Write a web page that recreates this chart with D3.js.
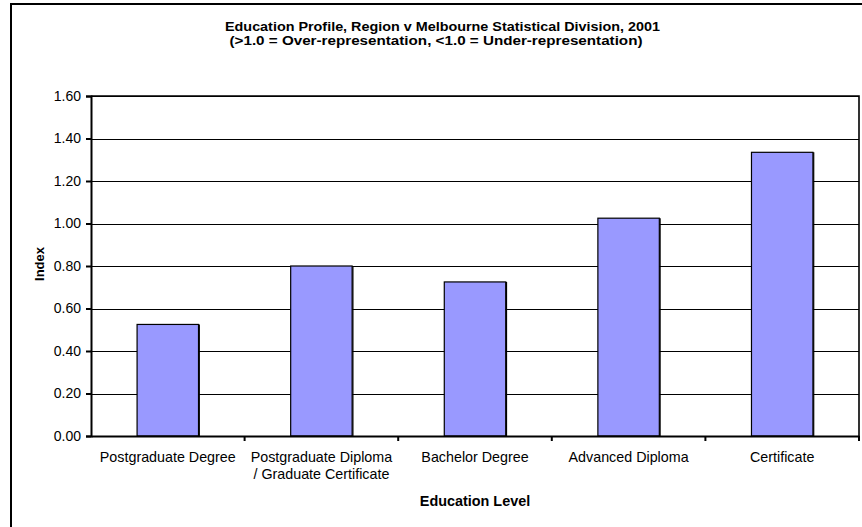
<!DOCTYPE html>
<html>
<head>
<meta charset="utf-8">
<script src="https://cdn.jsdelivr.net/npm/d3@7/dist/d3.min.js"></script>
<style>
  html, body { margin: 0; padding: 0; background: #fff; }
  svg { display: block; font-family: "Liberation Sans", Arial, sans-serif; }
</style>
</head>
<body>
<svg id="chart" width="862" height="527"></svg>
<script>
// Education index by level, region vs Melbourne SD, 2001
const categories = [
  ["Postgraduate Degree"],
  ["Postgraduate Diploma", "/ Graduate Certificate"],
  ["Bachelor Degree"],
  ["Advanced Diploma"],
  ["Certificate"]
];
const values = [0.525, 0.80, 0.725, 1.025, 1.335];
const yTicks = [0, 0.2, 0.4, 0.6, 0.8, 1.0, 1.2, 1.4, 1.6];
const titleLines = [
  "Education Profile, Region v Melbourne Statistical Division, 2001",
  "(>1.0 = Over-representation, <1.0 = Under-representation)"
];
const xTitle = "Education Level";
const yTitle = "Index";

const svg = d3.select("#chart");
const plot = { left: 91, right: 859, top: 96, bottom: 436 };

// outer chart frame (runs past the right and bottom edges)
svg.append("rect")
  .attr("x", 11).attr("y", 4)
  .attr("width", 880).attr("height", 540)
  .attr("fill", "#fff").attr("stroke", "#000").attr("stroke-width", 2);

const x = d3.scaleBand()
  .domain(d3.range(categories.length))
  .range([plot.left, plot.right])
  .paddingInner(0).paddingOuter(0);

const y = d3.scaleLinear().domain([0, 1.6]).range([plot.bottom, plot.top]);

// gridlines
svg.append("g")
  .selectAll("line")
  .data(yTicks.filter(d => d > 0))
  .join("line")
  .attr("x1", plot.left).attr("x2", plot.right)
  .attr("y1", d => Math.round(y(d)) + 0.5).attr("y2", d => Math.round(y(d)) + 0.5)
  .attr("stroke", "#000").attr("stroke-width", 1);

// plot area top and right borders
svg.append("path")
  .attr("d", `M${plot.left},${plot.top}H${plot.right}V${plot.bottom}`)
  .attr("fill", "none").attr("stroke", "#000").attr("stroke-width", 1.6);

// bars
const barW = x.bandwidth() * 0.4;
const bars = svg.append("g").selectAll("g").data(values).join("g");
bars.append("rect")
  .attr("x", (d, i) => x(i) + (x.bandwidth() - barW) / 2)
  .attr("y", d => y(d))
  .attr("width", barW)
  .attr("height", d => y(0) - y(d))
  .attr("fill", "#9999ff")
  .attr("stroke", "#000").attr("stroke-width", 1.2);
bars.append("line")
  .attr("x1", (d, i) => x(i) + (x.bandwidth() + barW) / 2 + 0.8)
  .attr("x2", (d, i) => x(i) + (x.bandwidth() + barW) / 2 + 0.8)
  .attr("y1", d => y(d))
  .attr("y2", y(0))
  .attr("stroke", "#000").attr("stroke-width", 1.2);

// y axis
const yAxis = svg.append("g")
  .attr("transform", `translate(${plot.left},0)`)
  .call(d3.axisLeft(y).tickValues(yTicks).tickFormat(d3.format(".2f")).tickSize(5).tickPadding(5));
yAxis.select(".domain").attr("stroke-width", 2);
yAxis.selectAll(".tick line").attr("stroke-width", 2);
yAxis.selectAll("text")
  .attr("font-family", "Liberation Sans, Arial, sans-serif")
  .attr("font-size", 14).attr("fill", "#000");

// x axis with ticks at the category boundaries
const xAxis = svg.append("g")
  .attr("transform", `translate(0,${plot.bottom})`)
  .call(d3.axisBottom(x).tickSize(0).tickFormat(""));
xAxis.select(".domain").attr("stroke-width", 2);
xAxis.selectAll(".tick").remove();
const bounds = d3.range(1, categories.length + 1).map(i => plot.left + i * x.bandwidth());
xAxis.selectAll("line.b")
  .data(bounds)
  .join("line")
  .attr("class", "b")
  .attr("x1", d => d).attr("x2", d => d)
  .attr("y1", 0).attr("y2", 5)
  .attr("stroke", "#000").attr("stroke-width", 2);

// category labels
const lab = svg.append("g").selectAll("text").data(categories).join("text")
  .attr("x", (d, i) => x(i) + x.bandwidth() / 2)
  .attr("y", 462)
  .attr("text-anchor", "middle")
  .attr("font-size", 14.3)
  .attr("fill", "#000");
lab.selectAll("tspan").data(d => d).join("tspan")
  .attr("x", function () { return d3.select(this.parentNode).attr("x"); })
  .attr("dy", (d, i) => i === 0 ? 0 : 17)
  .text(d => d);

// chart title
const titleX = [442.5, 436];
const titleW = [435, 413];
svg.append("g").selectAll("text").data(titleLines).join("text")
  .attr("x", (d, i) => titleX[i])
  .attr("y", (d, i) => 30.5 + i * 14)
  .attr("text-anchor", "middle")
  .attr("font-size", 13.5)
  .attr("font-weight", "bold")
  .attr("textLength", (d, i) => titleW[i])
  .attr("lengthAdjust", "spacingAndGlyphs")
  .text(d => d);

svg.append("text")
  .attr("x", 475).attr("y", 506)
  .attr("text-anchor", "middle")
  .attr("font-size", 14.4)
  .attr("font-weight", "bold")
  .text(xTitle);

svg.append("text")
  .attr("transform", "translate(44,264) rotate(-90)")
  .attr("text-anchor", "middle")
  .attr("font-size", 13)
  .attr("font-weight", "bold")
  .text(yTitle);
</script>
</body>
</html>
